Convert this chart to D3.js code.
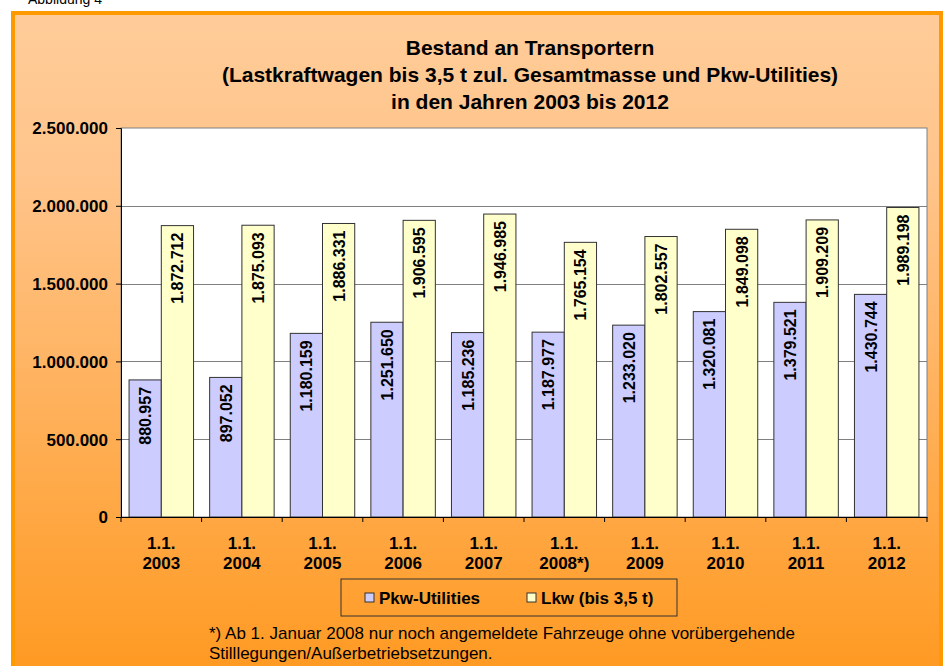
<!DOCTYPE html>
<html>
<head>
<meta charset="utf-8">
<script src="https://cdn.jsdelivr.net/npm/d3@7"></script>
<style>
  body { margin: 0; background: #fff; }
  svg { display: block; font-family: Arial, "Liberation Sans", sans-serif; }
</style>
</head>
<body>
<svg id="chart" width="946" height="666"></svg>
<script>
// Daten
const years = ["2003", "2004", "2005", "2006", "2007", "2008*)", "2009", "2010", "2011", "2012"];
const pkwUtilities = [880957, 897052, 1180159, 1251650, 1185236, 1187977, 1233020, 1320081, 1379521, 1430744];
const lkw = [1872712, 1875093, 1886331, 1906595, 1946985, 1765154, 1802557, 1849098, 1909209, 1989198];
const yTicks = [0, 500000, 1000000, 1500000, 2000000, 2500000];
const seriesNames = ["Pkw-Utilities", "Lkw (bis 3,5 t)"];
const seriesColors = ["#CCCCFF", "#FFFFCC"];
const titleLines = [
  "Bestand an Transportern",
  "(Lastkraftwagen bis 3,5 t zul. Gesamtmasse und Pkw-Utilities)",
  "in den Jahren 2003 bis 2012"
];
const footnote = [
  "*) Ab 1. Januar 2008 nur noch angemeldete Fahrzeuge ohne vorübergehende",
  "Stilllegungen/Außerbetriebsetzungen."
];

const svg = d3.select("#chart");
const margin = { top: 128, left: 121, bottom: 517, right: 927 };
const fmt = (v) => d3.format(",")(v).replace(/,/g, ".");

// Hintergrund mit Verlauf
const defs = svg.append("defs");
const grad = defs.append("linearGradient").attr("id", "bg").attr("x1", 0).attr("y1", 0).attr("x2", 0).attr("y2", 1);
grad.append("stop").attr("offset", "0%").attr("stop-color", "#FFCC99");
grad.append("stop").attr("offset", "25%").attr("stop-color", "#FFC48A");
grad.append("stop").attr("offset", "100%").attr("stop-color", "#FF9920");

svg.append("text").attr("x", 28).attr("y", 4).attr("font-size", 14).attr("fill", "#000").text("Abbildung 4");

svg.append("rect")
  .attr("x", 13).attr("y", 13).attr("width", 928).attr("height", 670)
  .attr("fill", "url(#bg)").attr("stroke", "#FF9900").attr("stroke-width", 4);

// Titel
svg.append("g").selectAll("text").data(titleLines).join("text")
  .attr("x", 530).attr("y", (d, i) => 55 + i * 27)
  .attr("text-anchor", "middle").attr("font-size", 21).attr("font-weight", "bold")
  .text((d) => d);

// Skalen
const x = d3.scaleBand().domain(years).range([margin.left, margin.right]);
const y = d3.scaleLinear().domain([0, 2500000]).range([margin.bottom, margin.top]);
const barW = x.bandwidth() * 0.4;
const groupOff = x.bandwidth() * 0.1;

// Zeichenfläche
svg.append("rect")
  .attr("x", margin.left).attr("y", margin.top)
  .attr("width", margin.right - margin.left).attr("height", margin.bottom - margin.top)
  .attr("fill", "#fff").attr("stroke", "#808080").attr("stroke-width", 1);

// Gitterlinien
svg.append("g").selectAll("line").data(yTicks.slice(1, -1)).join("line")
  .attr("x1", margin.left).attr("x2", margin.right)
  .attr("y1", (d) => Math.round(y(d)) + 0.5).attr("y2", (d) => Math.round(y(d)) + 0.5)
  .attr("stroke", "#808080").attr("stroke-width", 1);

// Balken
const rows = years.map((yr, i) => ({ year: yr, values: [pkwUtilities[i], lkw[i]] }));
const groups = svg.append("g").selectAll("g").data(rows).join("g")
  .attr("transform", (d) => `translate(${x(d.year) + groupOff},0)`);

groups.selectAll("rect").data((d) => d.values).join("rect")
  .attr("x", (d, j) => j * barW)
  .attr("y", (d) => y(d))
  .attr("width", barW)
  .attr("height", (d) => y(0) - y(d))
  .attr("fill", (d, j) => seriesColors[j])
  .attr("stroke", "#333").attr("stroke-width", 1);

groups.selectAll("text").data((d) => d.values).join("text")
  .attr("transform", (d, j) => `translate(${j * barW + barW / 2 + 6},${y(d) + 7}) rotate(-90)`)
  .attr("text-anchor", "end")
  .attr("font-size", 16).attr("font-weight", "bold")
  .text((d) => fmt(d));

// Achsen
const yAxis = svg.append("g")
  .attr("transform", `translate(${margin.left},0)`)
  .call(d3.axisLeft(y).tickValues(yTicks).tickSize(5).tickPadding(8).tickFormat(fmt));
yAxis.selectAll("text").attr("font-size", 17).attr("font-weight", "bold").attr("fill", "#000")
  .attr("font-family", "Arial, 'Liberation Sans', sans-serif").attr("dy", "0.35em");
yAxis.selectAll("line, path").attr("stroke", "#000");

const xAxis = svg.append("g")
  .attr("transform", `translate(0,${margin.bottom})`)
  .call(d3.axisBottom(x).tickSize(0).tickFormat(""));
xAxis.select(".domain").attr("stroke", "#000");
xAxis.selectAll("line").remove();
svg.append("g").selectAll("line").data(years.concat(["end"])).join("line")
  .attr("x1", (d, i) => (i < years.length ? x(d) : margin.right))
  .attr("x2", (d, i) => (i < years.length ? x(d) : margin.right))
  .attr("y1", margin.bottom).attr("y2", margin.bottom + 5)
  .attr("stroke", "#000");

const xl = svg.append("g").selectAll("text").data(years).join("text")
  .attr("x", (d) => x(d) + x.bandwidth() / 2)
  .attr("y", 549)
  .attr("text-anchor", "middle").attr("font-size", 17).attr("font-weight", "bold");
xl.append("tspan").attr("x", (d) => x(d) + x.bandwidth() / 2).text("1.1.");
xl.append("tspan").attr("x", (d) => x(d) + x.bandwidth() / 2).attr("dy", 20).text((d) => d);

// Legende
const legend = svg.append("g");
legend.append("rect").attr("x", 341).attr("y", 579).attr("width", 336).attr("height", 37)
  .attr("fill", "none").attr("stroke", "#333").attr("stroke-width", 1);
const legX = [365, 527];
seriesNames.forEach((name, i) => {
  legend.append("rect").attr("x", legX[i]).attr("y", 593).attr("width", 9).attr("height", 9)
    .attr("fill", seriesColors[i]).attr("stroke", "#333");
  legend.append("text").attr("x", legX[i] + 14).attr("y", 604)
    .attr("font-size", 17).attr("font-weight", "bold").text(name);
});

// Fußnote
svg.append("g").selectAll("text").data(footnote).join("text")
  .attr("x", 209).attr("y", (d, i) => 639 + i * 20)
  .attr("font-size", 17).text((d) => d);
</script>
</body>
</html>
